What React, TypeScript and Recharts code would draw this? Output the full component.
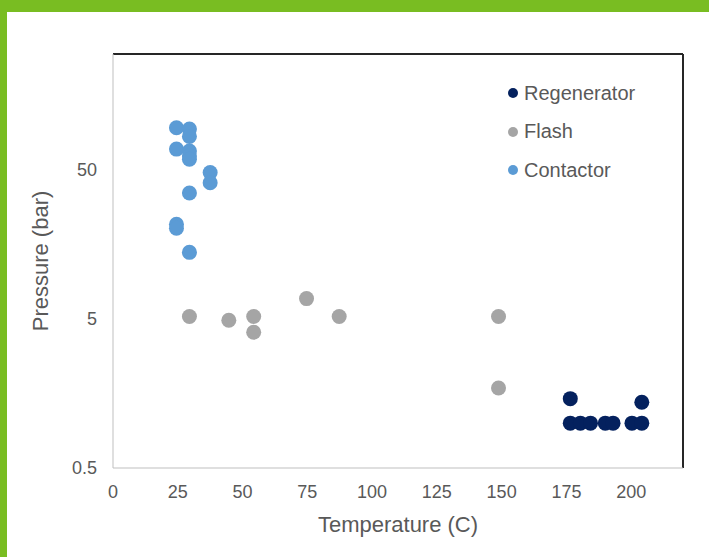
import {
  ScatterChart,
  Scatter,
  XAxis,
  YAxis,
  Legend,
  ReferenceLine,
  Label
} from 'recharts'

// Regenerator
const regenTemp = [176.5, 204.1, 176.5, 180.4, 184.3, 190, 193, 200.3, 204.1];
const regenPressure = [1.46, 1.38, 1.0, 1.0, 1.0, 1.0, 1.0, 1.0, 1.0];

// Flash
const flashTemp = [29.5, 44.7, 54.3, 54.3, 74.7, 87.3, 148.8, 148.8];
const flashPressure = [5.2, 4.9, 5.2, 4.07, 6.85, 5.2, 5.2, 1.72];

// Contactor
const contactorTemp = [24.5, 29.5, 29.5, 24.5, 29.5, 29.5, 29.5, 37.5, 37.5, 29.5, 24.5, 24.5, 29.5];
const contactorPressure = [96, 94, 84, 69, 67, 62, 59, 48, 41, 35, 21.6, 20.3, 14];

const xTicks = [0, 25, 50, 75, 100, 125, 150, 175, 200];
const yTicks = [0.5, 5, 50];

const toPoints = (xs: number[], ys: number[]) => xs.map((x, i) => ({ temp: x, pressure: ys[i] }));

const series = [
  { name: 'Regenerator', color: '#04215e', data: toPoints(regenTemp, regenPressure) },
  { name: 'Flash', color: '#a5a5a5', data: toPoints(flashTemp, flashPressure) },
  { name: 'Contactor', color: '#5b9bd5', data: toPoints(contactorTemp, contactorPressure) },
];

const FONT = '"Liberation Sans", Arial, sans-serif';
const TEXT = '#595959';

const dot = (color: string) => (props: any) => (
  <circle cx={props.cx} cy={props.cy} r={7.5} fill={color} />
);

const LegendBox = () => (
  <div style={{ fontFamily: FONT, fontSize: 20, color: TEXT }}>
    {series.map((s) => (
      <div key={s.name} style={{ height: 38.5, display: 'flex', alignItems: 'center' }}>
        <svg width={10} height={10} style={{ marginRight: 6 }}>
          <circle cx={5} cy={5} r={5} fill={s.color} />
        </svg>
        <span>{s.name}</span>
      </div>
    ))}
  </div>
);

export default function App() {
  return (
    <div style={{ position: 'absolute', top: 0, left: 0, width: 709, height: 557, background: '#fff', fontFamily: FONT }}>
      <div style={{ position: 'absolute', top: 0, left: 0, width: 709, height: 12, background: '#79bd22' }} />
      <div style={{ position: 'absolute', top: 0, left: 0, width: 7, height: 557, background: '#79bd22' }} />
      <div style={{ position: 'absolute', top: 0, left: 0 }}>
        <ScatterChart width={709} height={557} margin={{ top: 54, right: 26, bottom: 0, left: 0 }}>
          <XAxis
            type="number"
            dataKey="temp"
            domain={[0, 220]}
            ticks={xTicks}
            height={89}
            stroke="#bfbfbf"
            tickLine={false}
            tickSize={0}
            tickMargin={17}
            tick={{ fill: TEXT, fontSize: 18, fontFamily: FONT }}
          >
            <Label value="Temperature (C)" position="insideBottom" offset={25} style={{ fill: TEXT, fontSize: 22, fontFamily: FONT }} />
          </XAxis>
          <YAxis
            type="number"
            dataKey="pressure"
            scale="log"
            domain={[0.5, 300]}
            ticks={yTicks}
            width={113}
            stroke="#bfbfbf"
            tickLine={false}
            tickSize={0}
            tickMargin={16}
            tick={{ fill: TEXT, fontSize: 18, fontFamily: FONT }}
          >
            <Label value="Pressure (bar)" angle={-90} position="insideLeft" offset={40} style={{ fill: TEXT, fontSize: 22, fontFamily: FONT, textAnchor: 'middle' }} />
          </YAxis>
          <ReferenceLine y={300} stroke="#262626" strokeWidth={2} />
          <ReferenceLine x={220} stroke="#262626" strokeWidth={2} />
          {series.map((s) => (
            <Scatter key={s.name} name={s.name} data={s.data} fill={s.color} shape={dot(s.color)} isAnimationActive={false} />
          ))}
          <Legend
            layout="vertical"
            align="center"
            verticalAlign="middle"
            wrapperStyle={{ left: 508, top: 74, width: 180 }}
            content={() => <LegendBox />}
          />
        </ScatterChart>
      </div>
    </div>
  )
}
